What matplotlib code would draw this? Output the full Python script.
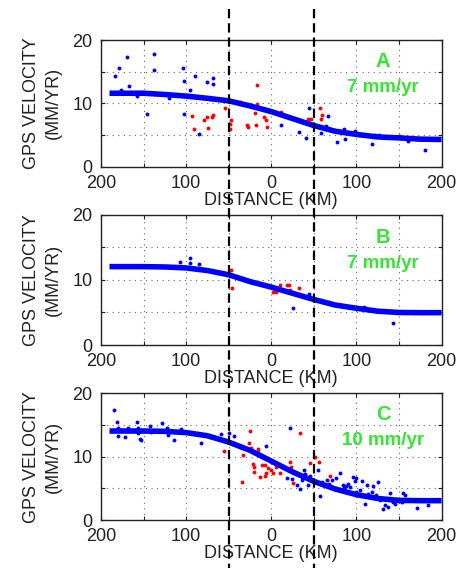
"""
GPS velocity profiles across the fault, three panels
"""

import matplotlib

matplotlib.use("Agg")
import matplotlib.pyplot as plt
import matplotlib.transforms as mtransforms
from matplotlib import ticker
from matplotlib.lines import Line2D

plt.rcParams["font.family"] = ["Liberation Sans", "DejaVu Sans"]
SIZE = 13

# ---- panel A ----
a_blue_x = [-184, -179, -170, -177, -167, -158, -146, -138, -138, -120, -104,
            -102, -102, -95, -89, -85, -75, -69, -69, 11, 33, 41, 44, 58, 64,
            67, 77, 85, 87, 98, 106, 118, 122, 126, 150, 161, 180]
a_blue_y = [14.4, 15.6, 17.4, 12.1, 12.7, 11.1, 8.3, 17.8, 15.3, 10.9, 15.6,
            13.6, 8.4, 12.1, 14.3, 5.2, 13.3, 14.0, 13.1, 6.6, 5.5, 4.5, 9.3,
            5.4, 6.4, 8.0, 3.9, 5.9, 4.4, 5.6, 5.0, 3.6, 5.0, 5.0, 4.8, 4.1, 2.6]
a_red_x = [-93, -91, -79, -76, -74, -70, -68, -54, -49, -47, -48, -37, -28,
           -27, -17, -17, -19, -18, -8, -6, -5, 11, 22, 43, 47, 57, 58, 60]
a_red_y = [8.0, 5.9, 7.3, 7.9, 6.1, 7.9, 8.2, 9.3, 5.9, 7.4, 6.7, 10.2, 6.6,
           6.2, 12.9, 9.9, 8.5, 6.6, 7.8, 7.4, 6.2, 8.6, 7.8, 7.5, 7.6, 9.2,
           7.6, 8.2]

# ---- panel B ----
b_blue_x = [-107, -96, -96, -85, 26, 44, 109, 143]
b_blue_y = [12.8, 13.4, 12.6, 12.5, 5.7, 7.8, 5.9, 3.4]
b_red_x = [-47, -46, 2, 6, 10, 18, 21, 22, 33, 4]
b_red_y = [11.5, 8.8, 8.2, 8.2, 9.2, 9.2, 9.3, 8.5, 8.7, 8.6]

# ---- panel C ----
c_blue_x = [-185, -181, -180, -180, -172, -168, -158, -157, -154, -153, -156,
            -142, -141, -128, -122, -121, -121, -114, -106, -83, -59, -50,
            -44, -6, 22,
            18, 24, 30, 34, 36, 38, 40, 43, 46, 51, 55, 57, 59, 62, 65, 68,
            71, 76, 81, 84, 86, 88, 90, 92, 94, 96, 98, 100, 100, 102, 104,
            106, 108, 110, 112, 114, 118, 120, 121, 123, 125, 128, 131, 133,
            137, 139, 141, 143, 145, 150, 154, 155, 157, 171, 184]
c_blue_y = [17.3, 15.4, 14.5, 13.3, 13.1, 14.5, 15.4, 14.5, 12.8, 12.6, 13.7,
            14.8, 13.9, 15.3, 14.6, 13.9, 13.4, 12.7, 14.3, 12.2, 13.6, 13.7,
            13.3, 11.7, 14.5,
            6.6, 6.5, 5.5, 4.9, 6.3, 7.9, 7.2, 5.6, 7.0, 6.0, 7.9, 3.8, 6.0,
            5.6, 6.3, 5.7, 6.3, 6.6, 7.4, 5.5, 5.0, 5.4, 5.7, 5.2, 4.2, 6.8,
            6.1, 6.7, 4.5, 3.9, 4.8, 6.2, 3.8, 2.5, 5.5, 4.1, 4.4, 5.3, 3.6,
            3.9, 6.0, 3.2, 1.8, 2.3, 2.1, 4.2, 3.2, 2.9, 2.5, 3.0, 2.9, 4.2,
            3.9, 1.9, 2.3]
c_red_x = [-55, -25, -26, -24, -16, -15, -33, -22, -20, -20, -11, -7, -13,
           -7, -6, -4, 0, 2, 6, 10, -34, 22, 23, 26, 34, 46, 51, 56, 69]
c_red_y = [10.9, 14.1, 12.1, 11.3, 11.2, 10.7, 10.3, 8.8, 8.3, 7.6, 8.7, 8.7,
           6.8, 7.0, 7.5, 8.2, 7.9, 7.5, 8.3, 7.5, 6.0, 9.1, 8.3, 5.8, 13.8,
           9.0, 10.0, 9.2, 7.0]

# ---- model curves ----
curve_x = [-190, -150, -125, -100, -75, -50, -25, 0, 25, 50, 75, 100, 125,
           150, 175, 200]
a_curve = [11.6, 11.6, 11.4, 11.15, 10.8, 10.4, 9.6, 8.7, 7.6, 6.5, 5.6, 5.1,
           4.7, 4.55, 4.35, 4.3]
b_curve = [12.05, 12.05, 12.0, 11.85, 11.45, 10.8, 9.75, 8.9, 7.95, 7.0,
           6.15, 5.65, 5.2, 5.0, 4.97, 4.97]
c_curve = [14.05, 14.05, 14.0, 13.8, 13.3, 12.3, 11.0, 9.3, 7.6, 6.1, 4.9,
           4.0, 3.4, 3.1, 3.05, 3.05]

panels = [
    ("A", "7 mm/yr", a_blue_x, a_blue_y, a_red_x, a_red_y, a_curve),
    ("B", "7 mm/yr", b_blue_x, b_blue_y, b_red_x, b_red_y, b_curve),
    ("C", "10 mm/yr", c_blue_x, c_blue_y, c_red_x, c_red_y, c_curve),
]

fig = plt.figure(figsize=(4.59, 5.68), dpi=100)

# axes boxes in figure fractions (left, bottom, width, height)
boxes = [
    [0.220, 0.7065, 0.742, 0.223],
    [0.220, 0.3926, 0.742, 0.229],
    [0.220, 0.0845, 0.742, 0.223],
]

GREEN = "#33e633"
axes = []
for box, (tag, rate, bx, by, rx, ry, curve) in zip(boxes, panels):
    ax = fig.add_axes(box)
    axes.append(ax)

    # data points
    ax.plot(bx, by, "o", color="#0000ff", ms=2.8, mew=0, zorder=3)
    ax.plot(rx, ry, "o", color="#ff0000", ms=2.8, mew=0, zorder=3)

    # model curve
    ax.plot(curve_x, curve, color="#0000ff", lw=4, solid_capstyle="butt",
            zorder=4)

    # panel tag and slip rate
    ax.text(0.828, 0.83, tag, transform=ax.transAxes, color=GREEN,
            fontsize=14.5, fontweight="bold", ha="center", va="center")
    ax.text(0.828, 0.625, rate, transform=ax.transAxes, color=GREEN,
            fontsize=13.5, fontweight="bold", ha="center", va="center")

    # limits and ticks
    ax.set_xlim(-200, 200)
    ax.set_ylim(0, 20)
    ax.xaxis.set_major_locator(ticker.MultipleLocator(50))
    ax.yaxis.set_major_locator(ticker.MultipleLocator(5))
    ax.xaxis.set_major_formatter(
        ticker.FuncFormatter(lambda v, p: f"{abs(v):.0f}" if v % 100 == 0 else "")
    )
    ax.yaxis.set_major_formatter(
        ticker.FuncFormatter(lambda v, p: f"{v:.0f}" if v % 10 == 0 else "")
    )
    ax.tick_params(axis="both", direction="in", length=3, width=0.8,
                   top=True, right=True, labelsize=SIZE, colors="#222222")
    ax.tick_params(axis="x", pad=6)
    ax.tick_params(axis="y", pad=6)

    # dotted grid
    ax.grid(True, linestyle=(0, (1, 4)), color="#666666", linewidth=0.8)
    for s in ax.spines.values():
        s.set_linewidth(1.0)
        s.set_color("#222222")

    # labels
    ax.set_xlabel("DISTANCE (KM)", fontsize=SIZE, labelpad=0, color="#222222")
    ax.set_ylabel("GPS VELOCITY\n(MM/YR)", fontsize=SIZE, linespacing=1.4,
                  color="#222222")
    ax.yaxis.set_label_coords(-0.115, 0.5)

# dashed lines at +-50 km running through all panels
trans = mtransforms.blended_transform_factory(axes[0].transData, fig.transFigure)
for xv in [-50, 50]:
    fig.add_artist(Line2D([xv, xv], [1 - 9 / 568, 0], transform=trans,
                          color="black", lw=1.6, linestyle=(0, (4.2, 2.2)),
                          zorder=10))

plt.savefig("out.png", dpi=100)
